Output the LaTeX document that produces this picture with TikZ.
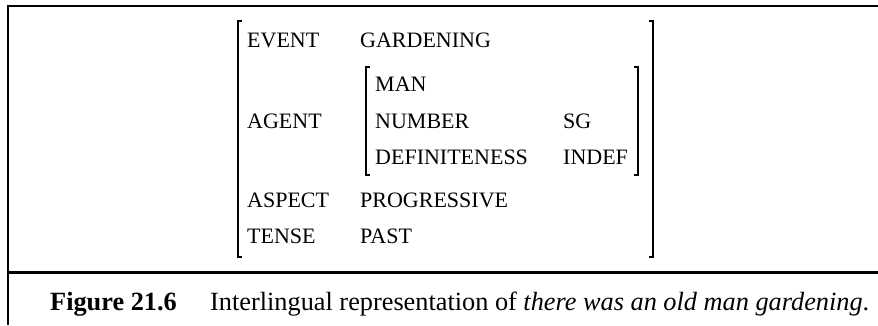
\documentclass[tikz,border=0pt]{standalone}
\usepackage{fontspec}
\setmainfont{Liberation Serif}
\begin{document}
\begin{tikzpicture}[x=1pt,y=-1pt,
  cell/.style={anchor=base west,inner sep=0pt,font=\fontsize{22}{26}\selectfont},
  captext/.style={anchor=base west,inner sep=0pt,font=\fontsize{26.3}{30}\selectfont},
  frame/.style={line width=2.6pt},
  brk/.style={line width=1.3pt}]
\useasboundingbox (0,0) rectangle (878,325);
% frame
\draw[frame] (878,6) -- (8,6) -- (8,325);
\draw[line width=3pt] (8,272) -- (878,272);
% outer brackets
\draw[brk] (242,21) -- (238,21) -- (238,257) -- (242,257);
\draw[brk] (649,21) -- (653,21) -- (653,257) -- (649,257);
% inner brackets
\draw[brk] (370,67) -- (366,67) -- (366,175) -- (370,175);
\draw[brk] (634,67) -- (638,67) -- (638,175) -- (634,175);
% rows
\node[cell] (ev)   at (247,47)  {EVENT};
\node[cell] (evv)  at (360,47)  {GARDENING};
\node[cell] (man)  at (375,91)  {MAN};
\node[cell] (ag)   at (247,128) {AGENT};
\node[cell] (num)  at (375,128) {NUMBER};
\node[cell] (numv) at (563,128) {SG};
\node[cell] (def)  at (375,164) {DEFINITENESS};
\node[cell] (defv) at (563,164) {INDEF};
\node[cell] (asp)  at (247,207) {ASPECT};
\node[cell] (aspv) at (360,207) {PROGRESSIVE};
\node[cell] (ten)  at (247,243) {TENSE};
\node[cell] (tenv) at (360,243) {PAST};
% caption
\node[captext] (figl) at (50,310) {\textbf{Figure 21.6}};
\node[captext] (figc) at (210,310) {Interlingual representation of \textit{there was an old man gardening}.};
\end{tikzpicture}
\end{document}
